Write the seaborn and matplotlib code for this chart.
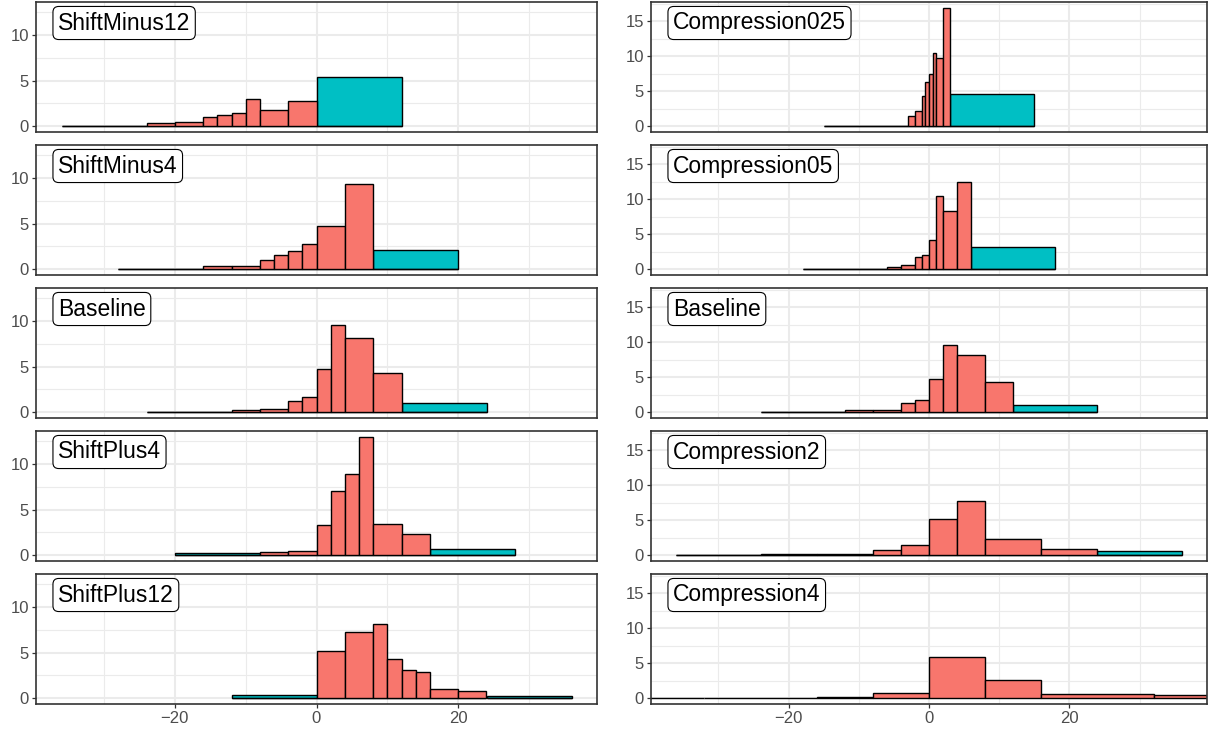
import pandas as pd
import matplotlib
matplotlib.use("Agg")
import matplotlib.pyplot as plt
from matplotlib.ticker import MultipleLocator, FixedLocator
import seaborn as sns

sns.set_theme(style="white")
plt.rcParams["font.family"] = ["Liberation Sans", "DejaVu Sans"]

BODY_COLOR = "#F8766D"
TAIL_COLOR = "#00BFC4"

# ---- left column: shifted scenarios ----
shift_minus12_edges = [-36, -24, -20, -16, -14, -12, -10, -8, -4, 0, 12]
shift_minus12_density = [0.03, 0.33, 0.40, 1.00, 1.24, 1.39, 3.00, 1.82, 2.77, 5.40]
shift_minus12_region = ["tail"] + ["body"] * 8 + ["tail"]

shift_minus4_edges = [-28, -16, -12, -8, -6, -4, -2, 0, 4, 8, 20]
shift_minus4_density = [0.04, 0.29, 0.36, 1.05, 1.52, 1.96, 2.72, 4.71, 9.38, 2.10]
shift_minus4_region = ["tail"] + ["body"] * 8 + ["tail"]

baseline_edges = [-24, -12, -8, -4, -2, 0, 2, 4, 8, 12, 24]
baseline_density = [0.04, 0.25, 0.36, 1.23, 1.70, 4.75, 9.53, 8.15, 4.31, 1.01]
baseline_region = ["tail"] + ["body"] * 8 + ["tail"]

shift_plus4_edges = [-20, -8, -4, 0, 2, 4, 6, 8, 12, 16, 28]
shift_plus4_density = [0.25, 0.36, 0.47, 3.30, 7.00, 8.90, 12.97, 3.40, 2.32, 0.62]
shift_plus4_region = ["tail"] + ["body"] * 8 + ["tail"]

shift_plus12_edges = [-12, 0, 4, 8, 10, 12, 14, 16, 20, 24, 36]
shift_plus12_density = [0.29, 5.20, 7.30, 8.10, 4.30, 3.10, 2.90, 1.00, 0.83, 0.25]
shift_plus12_region = ["tail"] + ["body"] * 8 + ["tail"]

# ---- right column: compressed scenarios ----
compression025_edges = [-15, -3, -2, -1, -0.5, 0, 0.5, 1, 2, 3, 15]
compression025_density = [0.03, 1.40, 2.20, 4.30, 6.30, 7.45, 10.47, 9.67, 16.90, 4.53]
compression025_region = ["tail"] + ["body"] * 8 + ["tail"]

compression05_edges = [-18, -6, -4, -2, -1, 0, 1, 2, 4, 6, 18]
compression05_density = [0.04, 0.33, 0.52, 1.70, 2.07, 4.20, 10.40, 8.33, 12.42, 3.10]
compression05_region = ["tail"] + ["body"] * 8 + ["tail"]

compression2_edges = [-36, -24, -16, -8, -4, 0, 4, 8, 16, 24, 36]
compression2_density = [0.05, 0.10, 0.18, 0.75, 1.46, 5.18, 7.80, 2.26, 0.94, 0.56]
compression2_region = ["tail"] + ["body"] * 8 + ["tail"]

compression4_edges = [-48, -32, -16, -8, 0, 8, 16, 32, 48]
compression4_density = [0.05, 0.07, 0.22, 0.70, 5.85, 2.60, 0.60, 0.42]
compression4_region = ["body"] * 8

left_panels = [
    ("ShiftMinus12", shift_minus12_edges, shift_minus12_density, shift_minus12_region),
    ("ShiftMinus4", shift_minus4_edges, shift_minus4_density, shift_minus4_region),
    ("Baseline", baseline_edges, baseline_density, baseline_region),
    ("ShiftPlus4", shift_plus4_edges, shift_plus4_density, shift_plus4_region),
    ("ShiftPlus12", shift_plus12_edges, shift_plus12_density, shift_plus12_region),
]
right_panels = [
    ("Compression025", compression025_edges, compression025_density, compression025_region),
    ("Compression05", compression05_edges, compression05_density, compression05_region),
    ("Baseline", baseline_edges, baseline_density, baseline_region),
    ("Compression2", compression2_edges, compression2_density, compression2_region),
    ("Compression4", compression4_edges, compression4_density, compression4_region),
]

x_major = [-20, 0, 20]
x_minor = [-30, -10, 10, 30]
x_limits = (-39.6, 39.6)

W, H = 1210, 736
fig = plt.figure(figsize=(W / 100, H / 100), dpi=100)
fig.patch.set_facecolor("white")

col_left = [36, 651]
col_width = [561, 556]
row_top = [2, 145, 288, 431, 574]
row_h = 130


def draw_panel(ax, label, edges, density, region):
    mids = [(a + b) / 2 for a, b in zip(edges[:-1], edges[1:])]
    df = pd.DataFrame({"mid": mids, "density": density, "region": region})
    order = [r for r in ["body", "tail"] if r in set(region)]
    sns.histplot(data=df, x="mid", weights="density", bins=edges, hue="region",
                 hue_order=order, palette={"body": BODY_COLOR, "tail": TAIL_COLOR},
                 alpha=1, edgecolor="black", linewidth=1.0, legend=False, ax=ax,
                 zorder=3)
    ax.annotate(label, xy=(0, 1), xycoords="axes fraction",
                xytext=(22, -21), textcoords="offset pixels",
                ha="left", va="center", fontsize=16.5, color="black", zorder=6,
                bbox=dict(boxstyle="round,pad=0.22,rounding_size=0.25",
                          facecolor="white", edgecolor="black", linewidth=0.8))


for c, panels in enumerate([left_panels, right_panels]):
    ymax = max(max(p[2]) for p in panels)
    ylim = (-0.05 * ymax, 1.05 * ymax)
    for r, (label, edges, density, region) in enumerate(panels):
        rect = [col_left[c] / W, 1 - (row_top[r] + row_h) / H,
                col_width[c] / W, row_h / H]
        ax = fig.add_axes(rect)
        ax.set_facecolor("white")
        draw_panel(ax, label, edges, density, region)
        ax.set_xlim(*x_limits)
        ax.set_ylim(*ylim)
        ax.xaxis.set_major_locator(FixedLocator(x_major))
        ax.xaxis.set_minor_locator(FixedLocator(x_minor))
        ax.yaxis.set_major_locator(MultipleLocator(5))
        ax.yaxis.set_minor_locator(MultipleLocator(2.5))
        ax.grid(which="major", color="#EBEBEB", linewidth=1.5, zorder=0)
        ax.grid(which="minor", color="#EBEBEB", linewidth=0.8, zorder=0)
        ax.set_axisbelow(True)
        ax.set_xlabel("")
        ax.set_ylabel("")
        for s in ax.spines.values():
            s.set_color("#333333")
            s.set_linewidth(1.2)
            s.set_zorder(5)
        ax.tick_params(axis="both", which="major", length=3, width=0.9,
                       color="#333333", labelsize=12, labelcolor="#4D4D4D", pad=2)
        ax.tick_params(axis="both", which="minor", length=0)
        ax.tick_params(axis="x", bottom=(r == 4), labelbottom=(r == 4))
        ax.tick_params(axis="y", left=True, labelleft=True)

fig.savefig("out.png", dpi=100, facecolor="white")
